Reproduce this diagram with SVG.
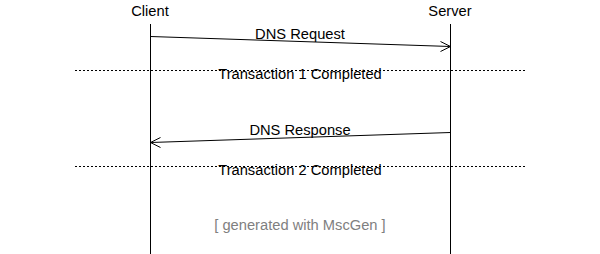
<svg xmlns="http://www.w3.org/2000/svg" width="600" height="254" viewBox="0 0 600 254">
<style>
text{font-family:"Liberation Sans",Arial,sans-serif;font-size:14.7px;fill:#000;text-anchor:middle}
.ll{stroke:#000;stroke-width:1;fill:none}
.msg{stroke:#000;stroke-width:1;fill:none}
.div{stroke:#000;stroke-width:1;stroke-dasharray:2,2;fill:none}
.gen{fill:#808080}
</style>
<rect width="600" height="254" fill="#fff"/>
<g id="client"><text x="150" y="16">Client</text><line class="ll" x1="150.5" y1="24" x2="150.5" y2="254"/></g>
<g id="server"><text x="450" y="16">Server</text><line class="ll" x1="450.5" y1="24" x2="450.5" y2="254"/></g>
<g id="connectors">
<g id="req"><line class="msg" x1="150.5" y1="36.5" x2="450.5" y2="46.5"/><polyline class="msg" points="440.5,41.5 450.5,46.5 440.5,51.5"/><text x="300" y="39">DNS Request</text></g>
<g id="div1"><line class="div" x1="75" y1="70.5" x2="525" y2="70.5"/><text x="300" y="79">Transaction 1 Completed</text></g>
<g id="resp"><line class="msg" x1="450.5" y1="132.5" x2="150.5" y2="142.5"/><polyline class="msg" points="160.5,137.5 150.5,142.5 160.5,147.5"/><text x="300" y="135">DNS Response</text></g>
<g id="div2"><line class="div" x1="75" y1="166.5" x2="525" y2="166.5"/><text x="300" y="175">Transaction 2 Completed</text></g>
</g>
<text class="gen" x="300" y="230">[ generated with MscGen ]</text>
</svg>
